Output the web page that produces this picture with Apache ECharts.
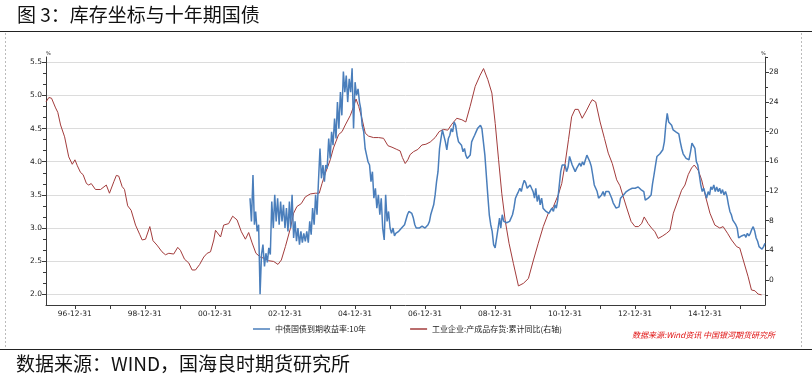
<!DOCTYPE html>
<html><head><meta charset="utf-8">
<script src="https://cdn.jsdelivr.net/npm/echarts@6/dist/echarts.min.js"></script>
<style>html,body{margin:0;padding:0;background:#fff}#c{width:812px;height:381px}</style>
</head><body><div id="c"></div>
<script>
// ---------------- data ----------------
const titleText = '图 3：库存坐标与十年期国债';
const sourceText = '数据来源：WIND，国海良时期货研究所';
const noteText = '数据来源:Wind资讯 中国银河期货研究所';
const seriesNames = ['中债国债到期收益率:10年', '工业企业:产成品存货:累计同比(右轴)'];

const xTickYears = [1996,1997,1998,1999,2000,2001,2002,2003,2004,2005,2006,2007,2008,2009,2010,2011,2012,2013,2014,2015];
const xLabelYears = [1996,1998,2000,2002,2004,2006,2008,2010,2012,2014];
const leftTicks = [2.0,2.5,3.0,3.5,4.0,4.5,5.0,5.5];
const rightTicks = [0,4,8,12,16,20,24,28];

// 工业企业:产成品存货:累计同比 (%), right axis
const invDates = ['1996-03-05','1996-04-04','1996-05-02','1996-06-13','1996-07-06','1996-08-04','1996-09-15','1996-10-28','1996-12-04',
'1997-01-01','1997-01-26','1997-02-28','1997-03-27','1997-05-01','1997-05-25','1997-06-20','1997-08-03','1997-09-25','1997-11-24','1997-12-27',
'1998-02-12','1998-03-09','1998-04-03','1998-05-08','1998-06-02','1998-07-05','1998-08-10','1998-09-25','1998-11-09','1998-12-03',
'1999-01-07','1999-02-21','1999-03-26','1999-05-07','1999-06-28','1999-08-03','1999-09-07','1999-10-28','1999-12-09',
'2000-01-06','2000-02-18','2000-04-02','2000-05-07','2000-06-11','2000-07-25','2000-09-06','2000-10-11','2000-11-15','2000-12-19',
'2001-01-06','2001-02-28','2001-04-01','2001-05-23','2001-07-04','2001-08-19','2001-10-03','2001-11-14','2001-12-18',
'2002-01-23','2002-03-04','2002-04-18','2002-06-03','2002-07-14','2002-09-05','2002-10-20','2002-11-24',
'2003-01-05','2003-02-27','2003-04-01','2003-05-05','2003-06-20','2003-08-01','2003-09-22','2003-11-13','2003-12-24',
'2004-01-22','2004-02-26','2004-04-17','2004-05-21','2004-07-13','2004-08-18','2004-09-21','2004-11-13','2004-12-17',
'2005-01-11','2005-02-08','2005-03-13','2005-04-17','2005-05-21','2005-07-12','2005-09-03','2005-10-25','2005-11-12','2005-12-10',
'2006-01-21','2006-03-12','2006-04-16','2006-05-10','2006-06-08','2006-07-05','2006-07-29','2006-09-03','2006-10-18','2006-11-29',
'2007-01-10','2007-02-24','2007-04-16','2007-05-28','2007-07-11','2007-08-26','2007-10-07','2007-11-28',
'2008-01-20','2008-03-01','2008-04-15','2008-06-07','2008-07-28','2008-09-02','2008-10-17','2008-11-28',
'2009-01-02','2009-02-06','2009-03-11','2009-04-15','2009-05-26','2009-07-10','2009-09-01','2009-10-23','2009-12-14',
'2010-02-05','2010-03-27','2010-05-18','2010-07-10','2010-09-01','2010-10-22','2010-11-27',
'2011-01-01','2011-02-05','2011-03-10','2011-04-14','2011-05-18','2011-06-28','2011-08-14','2011-09-18','2011-10-11','2011-11-16',
'2012-01-01','2012-02-15','2012-03-26','2012-05-07','2012-06-22','2012-07-26','2012-08-30','2012-10-05','2012-11-19','2012-12-30',
'2013-02-04','2013-03-09','2013-04-05','2013-05-16','2013-06-21','2013-07-26','2013-08-29','2013-10-10','2013-11-25','2013-12-30',
'2014-02-03','2014-03-25','2014-04-30','2014-06-04','2014-07-08','2014-08-12','2014-09-09','2014-10-20','2014-11-25',
'2015-01-06','2015-02-20','2015-04-12','2015-06-03','2015-07-07','2015-08-22','2015-10-03','2015-11-25','2015-12-28',
'2016-02-02','2016-03-24','2016-04-28','2016-06-03','2016-07-06','2016-08-11'];
const invValues = [24.0,24.6,24.5,23.2,22.6,20.9,19.3,16.6,15.6,
16.2,15.4,14.5,14.2,13.0,12.8,13.0,12.2,12.2,12.8,11.7,
13.3,14.1,14.0,12.6,12.2,10.0,9.4,7.4,6.1,5.4,
5.5,7.2,5.3,4.7,3.8,3.4,3.6,3.5,4.4,
4.0,2.8,2.3,1.35,1.35,2.1,3.1,3.6,3.8,5.4,
6.7,5.8,7.4,7.6,8.6,8.1,6.5,5.5,6.4,
5.0,3.6,3.1,2.9,2.6,2.5,2.1,2.7,
4.5,7.0,9.0,9.9,10.3,11.2,11.6,11.7,11.7,
13.0,14.4,16.2,17.8,19.6,20.0,20.9,22.2,23.4,
24.4,23.4,21.8,19.8,19.4,19.2,19.2,19.1,19.2,18.1,
17.9,17.6,17.4,16.5,15.7,16.2,16.9,17.3,17.6,18.2,
18.3,18.6,19.2,20.0,20.3,20.2,21.0,21.8,
21.6,21.3,23.4,26.1,27.6,28.5,27.0,25.2,
21.1,16.2,11.7,8.1,4.95,2.25,-0.8,-0.45,0.2,
2.7,4.95,7.2,9.0,9.9,11.5,13.0,
15.7,18.9,22.0,23.0,23.0,21.8,22.9,23.8,24.3,24.0,
21.3,19.1,17.1,15.7,13.5,12.7,11.2,9.7,7.9,7.2,
7.2,7.6,8.5,7.6,7.0,6.5,5.6,5.9,6.3,6.7,
9.0,10.8,12.1,12.8,14.2,15.1,15.5,14.8,13.5,
11.2,9.0,7.4,7.0,7.2,6.3,5.4,4.5,4.3,
2.7,0.44,-1.35,-1.45,-1.9,-2.0];

// 中债国债到期收益率:10年 (%), left axis; readings on the 1st and 16th of each month, 2002-01 .. 2016-09
const bondFirstYear = 2002;
const bondValues = [
/*2002*/ 3.45,3.1,3.8,3.05,3.25,2.95,3.05,2.0,2.6,2.75,2.42,2.62,2.48,2.7,2.6,3.4,3.0,3.5,3.1,3.45,3.05,3.4,3.1,3.35,
/*2003*/ 3.0,3.3,2.95,3.4,3.0,3.5,2.85,3.1,2.8,3.0,2.75,2.95,2.78,2.92,2.8,2.95,2.78,3.1,2.9,3.3,3.05,3.5,3.2,3.7,
/*2004*/ 4.2,3.75,3.95,3.7,3.95,3.9,4.35,4.05,4.45,4.25,4.65,4.35,4.9,4.5,5.05,4.7,5.36,5.05,5.3,4.9,5.25,5.05,5.41,4.5,
/*2005*/ 5.2,5.0,5.1,4.9,4.8,4.55,4.45,4.2,4.1,4.0,3.95,3.7,3.85,3.45,3.6,3.3,3.5,3.2,3.45,3.0,2.82,3.5,3.1,3.25,
/*2006*/ 3.0,2.92,3.0,2.88,2.92,2.9,2.95,2.97,3.0,3.02,3.05,3.08,3.2,3.25,3.27,3.22,3.15,3.05,3.0,2.97,3.0,3.02,3.03,3.03,
/*2007*/ 3.0,3.02,3.05,3.1,3.2,3.22,3.35,3.5,3.7,3.85,4.2,4.35,4.48,4.5,4.3,4.18,4.35,4.4,4.5,4.45,4.6,4.55,4.4,4.3,
/*2008*/ 4.3,4.25,4.15,4.2,4.1,4.05,4.03,4.1,4.3,4.35,4.4,4.45,4.5,4.52,4.55,4.5,4.48,4.1,3.8,3.5,3.2,3.05,2.95,2.75,
/*2009*/ 2.7,2.68,3.0,3.15,3.0,3.2,3.1,3.12,3.08,3.05,3.1,3.08,3.2,3.3,3.45,3.5,3.55,3.6,3.55,3.65,3.72,3.68,3.6,3.62,
/*2010*/ 3.65,3.6,3.55,3.45,3.6,3.4,3.5,3.35,3.45,3.3,3.3,3.25,3.25,3.22,3.25,3.3,3.25,3.35,3.3,3.42,3.4,3.85,3.95,3.98,
/*2011*/ 3.95,3.85,3.92,4.08,4.1,3.95,3.9,3.85,3.9,3.88,3.98,3.93,4.0,3.95,4.03,4.1,4.12,4.0,3.93,3.8,3.65,3.6,3.55,3.45,
/*2012*/ 3.45,3.5,3.55,3.48,3.55,3.57,3.55,3.53,3.45,3.38,3.35,3.3,3.28,3.32,3.45,3.48,3.5,3.47,3.55,3.57,3.58,3.6,3.6,3.58,
/*2013*/ 3.6,3.58,3.62,3.6,3.58,3.6,3.55,3.42,3.4,3.45,3.47,3.5,3.67,3.8,3.95,4.08,4.1,4.12,4.15,4.18,4.3,4.55,4.73,4.6,
/*2014*/ 4.6,4.55,4.48,4.5,4.45,4.48,4.42,4.3,4.2,4.12,4.15,4.05,4.08,4.03,4.15,4.28,4.25,4.2,4.0,3.95,3.8,3.65,3.55,3.6,
/*2015*/ 3.62,3.45,3.55,3.5,3.62,3.58,3.65,3.55,3.62,3.55,3.6,3.52,3.58,3.5,3.55,3.48,3.35,3.25,3.2,3.12,3.1,3.05,3.0,2.85,
/*2016*/ 2.82,2.88,2.85,2.9,2.86,2.92,2.88,2.92,2.98,3.02,2.95,2.85,2.8,2.72,2.7,2.68,2.72,2.77
];

// ---------------- build ----------------
const pad = n => (n < 10 ? '0' : '') + n;
const ts = s => { const p = s.split('-').map(Number); return new Date(p[0], p[1] - 1, p[2]).getTime(); };
const bondData = [];
for (let i = 0; i < bondValues.length; i++) {
  const y = bondFirstYear + Math.floor(i / 24);
  const m = Math.floor((i % 24) / 2) + 1;
  const d = i % 2 ? 16 : 1;
  bondData.push([new Date(y, m - 1, d).getTime(), bondValues[i]]);
}
const invData = invDates.map((d, i) => [ts(d), invValues[i]]);
const yearEnd = y => new Date(y, 11, 31).getTime();

const leftMinor = [];
for (let k = 0; k < leftTicks.length; k++) {
  leftMinor.push(leftTicks[k] - 1/3, leftTicks[k] - 1/6);
}
const rightMinor = rightTicks.map(t => t - 2).concat([30]);

const axisColor = '#3a3a3a';
const labelFont = { fontFamily: 'DejaVu Sans', fontSize: 7.5, color: '#222' };
const LMIN = 1.839, LMAX = 5.58, RMIN = -3.37, RMAX = 30.06;

const chart = echarts.init(document.getElementById('c'), null, { renderer: 'canvas' });
chart.setOption({
  animation: false,
  backgroundColor: '#fff',
  grid: { left: 46, right: 47, top: 57, bottom: 76, outerBoundsMode: 'none' },
  legend: {
    left: 248, top: 320, itemGap: 44, itemWidth: 17, itemHeight: 1.5, icon: 'rect',
    textStyle: { fontFamily: 'Noto Sans CJK SC', fontSize: 8, color: '#222' },
    data: seriesNames
  },
  xAxis: {
    type: 'value', min: ts('1996-03-05'), max: ts('2016-09-16'),
    axisLine: { onZero: false, lineStyle: { color: axisColor, width: 1 } },
    axisTick: { show: true, length: 4, inside: false, lineStyle: { color: axisColor }, customValues: xTickYears.map(yearEnd) },
    axisLabel: {
      show: true, ...labelFont, margin: 5, customValues: xLabelYears.map(yearEnd),
      formatter: v => { const d = new Date(v); return String(d.getFullYear()).slice(2) + '-' + pad(d.getMonth() + 1) + '-' + pad(d.getDate()); }
    },
    splitLine: { show: false }
  },
  yAxis: [
    { type: 'value', position: 'left', min: LMIN, max: LMAX,
      axisLine: { show: true, onZero: false, lineStyle: { color: axisColor } },
      axisTick: { show: true, length: 4, lineStyle: { color: axisColor }, customValues: leftTicks },
      axisLabel: { ...labelFont, margin: 4, customValues: leftTicks, formatter: v => v.toFixed(1) },
      splitLine: { show: true, lineStyle: { color: '#dcdcdc', width: 1 } } },
    { type: 'value', position: 'right', min: RMIN, max: RMAX,
      axisLine: { show: true, onZero: false, lineStyle: { color: axisColor } },
      axisTick: { show: true, length: 4, lineStyle: { color: axisColor }, customValues: rightTicks },
      axisLabel: { ...labelFont, margin: 4, customValues: rightTicks, formatter: v => String(v) },
      splitLine: { show: false } },
    { type: 'value', position: 'left', min: LMIN, max: LMAX,
      axisLine: { show: false, onZero: false }, axisLabel: { show: false }, splitLine: { show: false },
      axisTick: { show: true, length: 3, lineStyle: { color: axisColor }, customValues: leftMinor } },
    { type: 'value', position: 'right', min: RMIN, max: RMAX,
      axisLine: { show: false, onZero: false }, axisLabel: { show: false }, splitLine: { show: false },
      axisTick: { show: true, length: 3, lineStyle: { color: axisColor }, customValues: rightMinor } }
  ],
  series: [
    { name: seriesNames[0], type: 'line', yAxisIndex: 0, data: bondData, showSymbol: false, symbol: 'none',
      lineStyle: { color: '#4a7ebb', width: 1.5 }, itemStyle: { color: '#4a7ebb' }, z: 3 },
    { name: seriesNames[1], type: 'line', yAxisIndex: 1, data: invData, showSymbol: false, symbol: 'none',
      lineStyle: { color: '#a33c3c', width: 1 }, itemStyle: { color: '#a33c3c' }, z: 2 }
  ],
  graphic: [
    { type: 'text', left: 17, top: 5, style: { text: titleText, font: '19px "Noto Sans CJK SC"', fill: '#111' } },
    { type: 'line', shape: { x1: 0, y1: 31.5, x2: 812, y2: 31.5 }, style: { stroke: '#222', lineWidth: 1 } },
    { type: 'line', shape: { x1: 5.5, y1: 33, x2: 5.5, y2: 347 }, style: { stroke: '#bbb', lineWidth: 1, lineDash: [2, 2] } },
    { type: 'line', shape: { x1: 801.5, y1: 33, x2: 801.5, y2: 347 }, style: { stroke: '#bbb', lineWidth: 1, lineDash: [2, 2] } },
    { type: 'line', shape: { x1: 0, y1: 349.5, x2: 812, y2: 349.5 }, style: { stroke: '#222', lineWidth: 1 } },
    { type: 'text', left: 16, top: 354, style: { text: sourceText, font: '19px "Noto Sans CJK SC"', fill: '#111' } },
    { type: 'text', right: 37, top: 331, style: { text: noteText, font: 'italic 8px "Noto Sans CJK SC"', fill: '#e01010' } },
    { type: 'text', left: 46, top: 51, style: { text: '%', font: '5px "DejaVu Sans"', fill: '#222' } },
    { type: 'text', left: 761, top: 51, style: { text: '%', font: '5px "DejaVu Sans"', fill: '#222' } }
  ]
});
</script>
</body></html>
